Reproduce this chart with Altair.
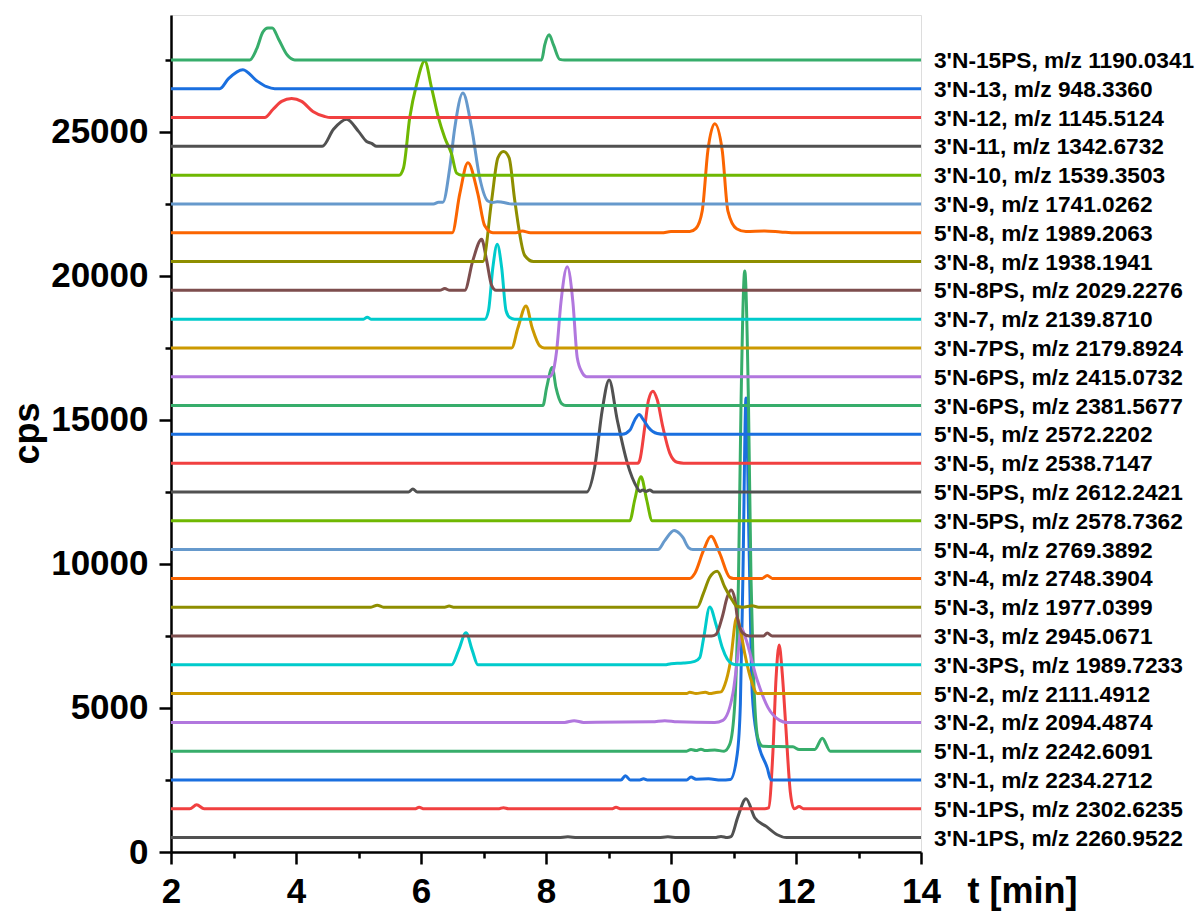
import altair as alt
import pandas as pd

# ---- labels (bottom to top) ----
NAMES = [
    "3'N-1PS, m/z 2260.9522", "5'N-1PS, m/z 2302.6235", "3'N-1, m/z 2234.2712",
    "5'N-1, m/z 2242.6091", "3'N-2, m/z 2094.4874", "5'N-2, m/z 2111.4912",
    "3'N-3PS, m/z 1989.7233", "3'N-3, m/z 2945.0671", "5'N-3, m/z 1977.0399",
    "3'N-4, m/z 2748.3904", "5'N-4, m/z 2769.3892", "3'N-5PS, m/z 2578.7362",
    "5'N-5PS, m/z 2612.2421", "3'N-5, m/z 2538.7147", "5'N-5, m/z 2572.2202",
    "3'N-6PS, m/z 2381.5677", "5'N-6PS, m/z 2415.0732", "3'N-7PS, m/z 2179.8924",
    "3'N-7, m/z 2139.8710", "5'N-8PS, m/z 2029.2276", "3'N-8, m/z 1938.1941",
    "5'N-8, m/z 1989.2063", "3'N-9, m/z 1741.0262", "3'N-10, m/z 1539.3503",
    "3'N-11, m/z 1342.6732", "3'N-12, m/z 1145.5124", "3'N-13, m/z 948.3360",
    "3'N-15PS, m/z 1190.0341",
]

# baseline offset of each trace (cps)
BASELINES = [500, 1500, 2500, 3500, 4500, 5500, 6500, 7500, 8500, 9500,
             10500, 11500, 12500, 13500, 14500, 15500, 16500, 17500, 18500,
             19500, 20500, 21500, 22500, 23500, 24500, 25500, 26500, 27500]

PALETTE = ["#515151", "#F14040", "#1A6FDF", "#37AD6B", "#B177DE", "#CC9900",
           "#00CBCC", "#7D4E4E", "#8E8E00", "#FB6501", "#6699CC", "#6FB802"]

# (t [min], cps above baseline)
T00 = [(2, 0), (8.2, 0), (8.35, 30), (8.5, 0), (9.8, 0), (9.95, 30), (10.1, 0), (10.7, 0), (10.8, 40),
       (10.9, 0), (10.96, 30), (11.07, 720), (11.2, 1350), (11.34, 690), (11.53, 380), (11.7, 100),
       (11.85, 0), (14, 0)]
T01 = [(2, 0), (2.3, 0), (2.41, 140), (2.53, 0), (5.9, 0), (5.97, 50), (6.05, 0), (7.25, 0), (7.32, 40),
       (7.4, 0), (9.05, 0), (9.12, 50), (9.2, 0), (11.5, 0), (11.56, 30), (11.63, 1940), (11.68, 4500),
       (11.73, 5690), (11.78, 4700), (11.83, 3090), (11.91, 560), (11.97, 0), (12.05, 80), (12.12, 0),
       (14, 0)]
T02 = [(2, 0), (9.2, 0), (9.27, 150), (9.35, 0), (9.5, 0), (9.56, 40), (9.62, 0), (10.25, 0), (10.32, 100),
       (10.4, 30), (10.6, 40), (10.8, 0), (10.95, 20), (11.06, 900), (11.11, 2640), (11.15, 7000),
       (11.2, 13260), (11.25, 8000), (11.3, 3000), (11.38, 1460), (11.54, 420), (11.6, 0), (14, 0)]
T03 = [(2, 0), (10.25, 0), (10.32, 60), (10.4, 20), (10.48, 70), (10.55, 20), (10.7, 40), (10.85, 0),
       (10.94, 240), (11.02, 1630), (11.08, 6000), (11.12, 12000), (11.18, 16670), (11.24, 12000),
       (11.28, 6000), (11.31, 3370), (11.39, 450), (11.47, 170), (11.95, 150), (12.05, 60), (12.3, 60),
       (12.42, 450), (12.55, 0), (14, 0)]
T04 = [(2, 0), (8.3, 0), (8.45, 60), (8.6, 0), (9.7, 20), (9.9, 60), (10.1, 20), (10.7, 0), (10.83, 70),
       (10.99, 1000), (11.06, 2150), (11.13, 3260), (11.19, 2950), (11.38, 1460), (11.55, 520),
       (11.74, 70), (11.85, 0), (14, 0)]
T05 = [(2, 0), (10.25, 0), (10.3, 50), (10.4, 0), (10.55, 50), (10.62, 0), (10.72, 40), (10.8, 60),
       (10.86, 300), (10.95, 1100), (11.05, 2640), (11.12, 2100), (11.18, 1390), (11.3, 350),
       (11.38, 0), (14, 0)]
T06 = [(2, 0), (6.49, 0), (6.6, 500), (6.72, 1110), (6.82, 500), (6.91, 0), (9.9, 0), (10.0, 40),
       (10.2, 60), (10.38, 120), (10.46, 250), (10.52, 900), (10.62, 2010), (10.72, 1400),
       (10.82, 600), (10.9, 200), (10.98, 30), (11.05, 0), (14, 0)]
T07 = [(2, 0), (10.65, 0), (10.72, 50), (10.82, 660), (10.9, 1350), (10.96, 1600), (11.02, 1300),
       (11.06, 660), (11.15, 100), (11.25, 0), (11.48, 0), (11.54, 100), (11.62, 0), (14, 0)]
T08 = [(2, 0), (5.2, 0), (5.3, 70), (5.4, 0), (6.38, 0), (6.45, 40), (6.52, 0), (10.42, 0), (10.52, 490),
       (10.62, 1040), (10.74, 1250), (10.86, 700), (10.98, 240), (11.05, 30), (11.15, 0), (11.3, 50),
       (11.4, 0), (14, 0)]
T09 = [(2, 0), (10.3, 0), (10.38, 170), (10.52, 970), (10.64, 1460), (10.78, 870), (10.94, 35),
       (11.0, 0), (11.46, 0), (11.54, 100), (11.62, 0), (14, 0)]
T10 = [(2, 0), (9.79, 0), (9.9, 310), (10.05, 660), (10.14, 550), (10.19, 420), (10.28, 70),
       (10.35, 0), (14, 0)]
T11 = [(2, 0), (9.34, 0), (9.42, 730), (9.52, 1530), (9.61, 730), (9.7, 0), (14, 0)]
T12 = [(2, 0), (5.8, 0), (5.87, 100), (5.94, 0), (8.65, 0), (8.78, 870), (8.9, 2850), (9.01, 3890),
       (9.14, 2500), (9.3, 1010), (9.46, 140), (9.5, 20), (9.55, 70), (9.6, 20), (9.66, 70),
       (9.72, 0), (14, 0)]
T13 = [(2, 0), (9.47, 0), (9.5, 100), (9.58, 1250), (9.64, 2190), (9.71, 2500), (9.78, 2200),
       (9.87, 1250), (9.98, 350), (10.1, 30), (10.2, 0), (14, 0)]
T14 = [(2, 0), (9.22, 0), (9.34, 140), (9.42, 500), (9.49, 690), (9.56, 500), (9.64, 240),
       (9.78, 30), (9.9, 0), (14, 0)]
T15 = [(2, 0), (7.95, 0), (8.01, 620), (8.1, 1320), (8.16, 620), (8.25, 70), (8.32, 0), (14, 0)]
T16 = [(2, 0), (8.05, 0), (8.1, 100), (8.17, 900), (8.24, 2600), (8.34, 3820), (8.43, 2600),
       (8.5, 660), (8.58, 140), (8.65, 0), (14, 0)]
T17 = [(2, 0), (7.45, 0), (7.55, 690), (7.68, 1460), (7.78, 690), (7.9, 70), (7.97, 0), (14, 0)]
T18 = [(2, 0), (5.08, 0), (5.14, 70), (5.2, 0), (7.02, 0), (7.08, 300), (7.15, 1800), (7.22, 2600),
       (7.29, 1800), (7.36, 300), (7.42, 60), (7.5, 0), (14, 0)]
T19 = [(2, 0), (6.3, 0), (6.38, 60), (6.46, 0), (6.7, 0), (6.83, 1040), (6.97, 1770), (7.05, 1040),
       (7.13, 170), (7.2, 0), (14, 0)]
T20 = [(2, 0), (6.99, 0), (7.13, 2120), (7.23, 3600), (7.32, 3820), (7.41, 3600), (7.5, 2120),
       (7.66, 210), (7.8, 0), (14, 0)]
T21 = [(2, 0), (6.5, 0), (6.62, 1350), (6.75, 2430), (6.91, 1350), (7.02, 240), (7.15, 0), (7.52, 0),
       (7.62, 60), (7.75, 0), (9.85, 0), (10.0, 40), (10.3, 40), (10.4, 150), (10.5, 760),
       (10.59, 2850), (10.7, 3785), (10.82, 2850), (10.91, 760), (11.05, 140), (11.2, 40),
       (11.5, 60), (11.75, 30), (12.0, 0), (14, 0)]
T22 = [(2, 0), (6.2, 0), (6.28, 60), (6.35, 60), (6.46, 1250), (6.54, 2640), (6.67, 3850),
       (6.81, 2640), (6.94, 900), (7.07, 100), (7.15, 50), (7.22, 80), (7.3, 60), (7.45, 0), (14, 0)]
T23 = [(2, 0), (5.65, 0), (5.72, 250), (5.82, 2000), (5.93, 3160), (6.06, 3960), (6.17, 3020),
       (6.28, 1990), (6.38, 1300), (6.49, 730), (6.57, 70), (6.65, 0), (14, 0)]
T24 = [(2, 0), (4.42, 0), (4.6, 590), (4.81, 940), (5.0, 520), (5.13, 170), (5.21, 100), (5.29, 0),
       (14, 0)]
T25 = [(2, 0), (3.5, 0), (3.63, 280), (3.77, 560), (3.93, 660), (4.09, 560), (4.27, 210), (4.46, 35),
       (4.55, 0), (14, 0)]
T26 = [(2, 0), (2.78, 0), (2.92, 350), (3.15, 660), (3.37, 280), (3.53, 70), (3.66, 0), (14, 0)]
T27 = [(2, 0), (3.26, 0), (3.37, 380), (3.47, 970), (3.55, 1110), (3.62, 1110), (3.72, 730),
       (3.86, 170), (3.98, 0), (7.93, 0), (7.98, 520), (8.05, 870), (8.12, 520), (8.22, 20),
       (8.3, 0), (14, 0)]

TRACES = [T00, T01, T02, T03, T04, T05, T06, T07, T08, T09, T10, T11, T12, T13,
          T14, T15, T16, T17, T18, T19, T20, T21, T22, T23, T24, T25, T26, T27]

X_TICKS = list(range(2, 15))
Y_TICKS = [0, 2500, 5000, 7500, 10000, 12500, 15000, 17500, 20000, 22500, 25000, 27500]

rows = []
for i, (name, base, pts) in enumerate(zip(NAMES, BASELINES, TRACES)):
    for k, (t, h) in enumerate(pts):
        rows.append({"name": name, "t": t, "cps": base + h, "k": k, "idx": i})
df = pd.DataFrame(rows)
lab = pd.DataFrame({"name": NAMES, "t": [14] * len(NAMES), "cps": BASELINES})

colors = [PALETTE[i % len(PALETTE)] for i in range(len(NAMES))]
FONT = "Liberation Sans"

xscale = alt.Scale(domain=[2, 14], nice=False, zero=False)
yscale = alt.Scale(domain=[0, 29060], nice=False)

xaxis = alt.Axis(
    values=X_TICKS, grid=False, format="d",
    labelExpr="datum.value % 2 === 0 ? datum.label : ''",
    tickSize={"condition": {"test": "datum.value % 2 === 0", "value": 12}, "value": 6},
    labelPadding=10, labelFontSize=35, labelFont=FONT, labelFontWeight="bold",
    labelColor="black", domainColor="black", domainWidth=2.5, tickColor="black",
    tickWidth=2.5, title="t [min]", titleFont=FONT, titleFontSize=36,
    titleFontWeight="bold", titleColor="black", titleX=796, titleY=50,
    titleAlign="left", titleBaseline="alphabetic", labelFlush=False, labelOverlap=False,
)
yaxis = alt.Axis(
    values=Y_TICKS, grid=False, format="d",
    labelExpr="datum.value % 5000 === 0 ? datum.label : ''",
    tickSize={"condition": {"test": "datum.value % 5000 === 0", "value": 12}, "value": 6},
    labelPadding=11, labelFontSize=35, labelFont=FONT, labelFontWeight="bold",
    labelColor="black", domainColor="black", domainWidth=2.5, tickColor="black",
    tickWidth=2.5, title="cps", titleFont=FONT, titleFontSize=36,
    titleFontWeight="bold", titleColor="black", titleX=-133, titleY=418,
    titleAngle=270, titleAlign="center", titleBaseline="alphabetic",
    labelFlush=False, labelOverlap=False,
)

lines = alt.Chart(df).mark_line(strokeWidth=3, interpolate="monotone").encode(
    x=alt.X("t:Q", scale=xscale, axis=xaxis),
    y=alt.Y("cps:Q", scale=yscale, axis=yaxis),
    color=alt.Color("name:N", scale=alt.Scale(domain=NAMES, range=colors), legend=None),
    order="k:Q",
)

labels = alt.Chart(lab).mark_text(
    align="left", baseline="middle", dx=13, dy=1, font=FONT, fontSize=22.7,
    fontWeight="bold", color="black",
).encode(x=alt.X("t:Q", scale=xscale), y=alt.Y("cps:Q", scale=yscale), text="name:N")

chart = alt.layer(lines, labels).properties(
    width=750, height=837,
    autosize=alt.AutoSizeParams(type="none"),
    padding={"left": 163, "top": 7, "right": 275, "bottom": 62},
).configure_view(stroke=None).configure(background="white")

chart.save("out.html", embed_options={"renderer": "svg", "actions": False})
